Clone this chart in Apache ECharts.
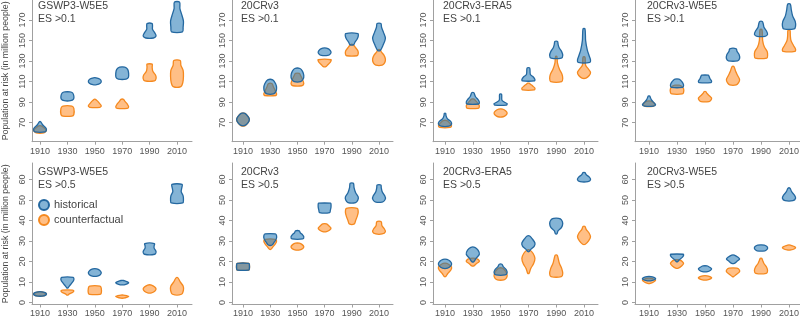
<!DOCTYPE html>
<html>
<head>
<meta charset="utf-8">
<script src="https://cdn.jsdelivr.net/npm/echarts@6/dist/echarts.min.js"></script>
<style>html,body{margin:0;padding:0;background:#fff}#c{width:800px;height:318px}</style>
</head>
<body>
<div id="c"></div>
<script>
// ---------------- DATA ----------------
const years = [1910, 1930, 1950, 1970, 1990, 2010];
const ticksEs01 = [70, 90, 110, 130, 150, 170];
const ticksEs05 = [0, 10, 20, 30, 40, 50, 60];
const datasetNames = ['GSWP3-W5E5', '20CRv3', '20CRv3-ERA5', '20CRv3-W5E5'];
const thresholds = ['ES >0.1', 'ES >0.5'];
const seriesNames = ['historical', 'counterfactual'];
const yAxisTitle = 'Population at risk (in million people)';

// each violin: list of [value, relative half-width] from bottom to top
const gswp3_01_hist = [
  [[61,0.8],[63,1],[65,0.9],[68,0.4],[71,0.1]],
  [[91.4,0.5],[93,0.95],[96,1],[99,0.8],[100,0.4]],
  [[107.1,0.3],[108.5,0.85],[110.5,1],[112.5,0.75],[113.7,0.2]],
  [[112.4,0.6],[114,0.95],[118,1],[122,0.85],[124.1,0.4]],
  [[152.5,0.6],[154.5,1],[157,0.85],[161,0.45],[164,0.45],[166.5,0.4]],
  [[158.4,0.85],[163,0.95],[169,1],[176,0.7],[181,0.45],[187.4,0.4]]
];
const gswp3_01_cf = [
  [[60,0.6],[61.5,0.9],[63,1],[65,0.6],[67,0.2]],
  [[76.4,0.7],[78,1],[84,1],[86.2,0.7]],
  [[85,0.8],[86.5,1],[89,0.7],[91.5,0.35],[92.8,0.1]],
  [[84,0.8],[85.5,1],[88,0.8],[91,0.4],[92.8,0.2]],
  [[110.7,0.75],[113,1],[116,0.95],[120,0.5],[124,0.4],[127,0.4]],
  [[105.1,0.6],[109,0.9],[115,1],[121,0.95],[126,0.6],[130.6,0.5]]
];
const cr_01_hist = [
  [[67.3,0.3],[70,0.8],[73,1],[76,0.8],[79.1,0.3]],
  [[98,0.5],[100.5,0.9],[104,1],[108,0.85],[111.7,0.4]],
  [[110,0.5],[112.5,0.9],[116,1],[120,0.8],[122.8,0.4]],
  [[135.5,0.5],[137,0.9],[139,1],[141.5,0.7],[142.7,0.3]],
  [[146,0.3],[148.5,0.5],[151,0.8],[154,1],[156.8,0.95]],
  [[140.4,0.2],[145,0.6],[152,1],[158,0.7],[163,0.4],[166.5,0.3]]
];
const cr_01_cf = [
  [[67,0.3],[70,0.8],[73,1],[76,0.8],[79,0.3]],
  [[96.5,0.9],[98,1],[101,0.8],[105,0.5],[108,0.3]],
  [[106,0.7],[108,1],[112,0.8],[116,0.5],[118,0.3]],
  [[124.7,0.2],[126.5,0.5],[129,0.9],[131.3,1]],
  [[135.2,0.8],[137,1],[140,0.95],[143,0.6],[146,0.2]],
  [[126.1,0.5],[128.5,0.9],[132,1],[136,0.75],[139,0.35],[141,0.2]]
];
const era5_01_hist = [
  [[66.6,0.6],[68.5,1],[71,0.9],[74,0.35],[77,0.15],[79.1,0.1]],
  [[88.2,0.9],[90,1],[92.5,0.8],[95.5,0.4],[99.3,0.15]],
  [[87.2,0.9],[88.5,1],[90,0.6],[92,0.2],[97.7,0.15]],
  [[110.7,0.9],[112,1],[114.5,0.75],[117,0.3],[123.2,0.2]],
  [[133,0.8],[135.5,1],[139,0.85],[143,0.45],[146,0.3],[149.2,0.2]],
  [[128.7,0.9],[131,1],[135,0.8],[141,0.5],[150,0.25],[161.4,0.15]]
];
const era5_01_cf = [
  [[65.4,0.8],[67,1],[69,0.8],[72,0.3]],
  [[84,0.8],[85.5,1],[88,0.9],[91,0.5],[93,0.2]],
  [[75.8,0.4],[77.5,0.85],[79.5,1],[81.5,0.8],[83.3,0.3]],
  [[101.9,0.9],[103.5,1],[105.5,0.7],[107.5,0.3],[108.5,0.1]],
  [[110,0.85],[113,1],[117,0.9],[122,0.5],[128,0.2],[134.5,0.1]],
  [[113.4,0.3],[116,0.8],[119,1],[122,0.7],[126,0.25],[133.9,0.15]]
];
const w5e5_01_hist = [
  [[86.2,0.7],[87.5,1],[89.5,0.75],[92.5,0.35],[96,0.1]],
  [[104.5,0.85],[106.5,1],[109,0.85],[111,0.6],[112.4,0.3]],
  [[109.1,0.9],[110.5,1],[113,0.75],[115.5,0.6],[116.3,0.5]],
  [[130.3,0.7],[132.5,1],[136,0.95],[139.5,0.6],[142,0.5]],
  [[154.1,0.6],[156,1],[159,0.85],[163,0.45],[166,0.35],[168.5,0.2]],
  [[161.4,0.8],[164,1],[168.5,0.95],[174,0.55],[180,0.35],[185.5,0.2]]
];
const w5e5_01_cf = [
  [[86,0.6],[87.5,0.9],[89,0.8],[91,0.3]],
  [[98,0.8],[99.5,1],[103,1],[105.5,0.7],[106.5,0.3]],
  [[90.5,0.6],[92,0.9],[94,1],[96.5,0.6],[98.5,0.3],[100.2,0.15]],
  [[106.8,0.5],[109,0.85],[112,1],[116,0.7],[120,0.4],[124.7,0.15]],
  [[133,0.9],[135.5,1],[139,0.95],[144,0.5],[150,0.25],[160.7,0.15]],
  [[139.4,0.9],[141.5,1],[145,0.7],[150,0.3],[155,0.2],[160,0.15]]
];
const gswp3_05_hist = [
  [[3.1,0.4],[3.6,0.9],[4.2,1],[4.8,0.8],[5.2,0.3]],
  [[7.1,0.1],[8,0.3],[9.5,0.7],[11,1],[12.2,0.9]],
  [[12.8,0.4],[13.5,0.85],[14.5,1],[15.7,0.75],[16.4,0.3]],
  [[8.6,0.3],[9.2,0.85],[9.7,1],[10.2,0.7],[10.7,0.2]],
  [[23.5,0.8],[24.8,1],[26.5,0.7],[27.5,0.7],[28.7,0.75]],
  [[48.5,0.9],[50,1],[52,0.95],[54,0.65],[56,0.75],[57.6,0.8]]
];
const gswp3_05_cf = [
  [[3.2,0.5],[3.8,0.9],[4.3,1],[4.8,0.6],[5.2,0.3]],
  [[3.6,0.1],[4.2,0.3],[5,0.85],[5.6,1],[6,0.8]],
  [[3.9,0.8],[4.5,1],[7,1],[8,0.8]],
  [[2.1,0.2],[2.6,0.8],[3,1],[3.3,0.7],[3.6,0.2]],
  [[4.7,0.3],[5.5,0.8],[6.5,1],[7.5,0.8],[8.5,0.3]],
  [[4,0.7],[6,1],[8,0.95],[10,0.5],[12,0.15]]
];
const cr_05_hist = [
  [[15.8,0.9],[16.5,1],[18.5,1],[19.1,0.9]],
  [[28,0.3],[29.5,0.65],[31,0.95],[32.5,1],[33.4,0.8]],
  [[31,0.85],[32,1],[33,0.8],[34,0.45],[34.9,0.3]],
  [[43.8,0.8],[45,0.9],[46.5,1],[48,1],[48.4,0.95]],
  [[48.7,0.6],[50,0.95],[51.5,1],[53.5,0.6],[56,0.35],[58.1,0.25]],
  [[49.1,0.6],[50.5,1],[52,0.9],[54,0.5],[56,0.35],[57.3,0.3]]
];
const cr_05_cf = [
  [[15.8,0.9],[16.5,1],[18.5,1],[19.1,0.9]],
  [[25.9,0.1],[27,0.4],[28.5,0.8],[30,1],[30.8,0.8]],
  [[25.6,0.4],[26.3,0.85],[27.2,1],[28.2,0.75],[28.9,0.3]],
  [[34.5,0.3],[35.3,0.8],[36.3,1],[37.3,0.7],[38.3,0.3]],
  [[38.3,0.4],[40,0.6],[42,0.85],[44,1],[45.9,0.85]],
  [[33.4,0.5],[34.5,1],[35.8,0.85],[37.5,0.45],[39.4,0.35]]
];
const era5_05_hist = [
  [[16.7,0.4],[17.8,0.9],[19,1],[20.2,0.75],[21,0.3]],
  [[19.9,0.15],[21.5,0.5],[23.5,1],[25.5,0.8],[26.9,0.3]],
  [[13.4,0.7],[14.5,1],[16,0.85],[17.5,0.4],[18.6,0.2]],
  [[24.8,0.1],[26,0.4],[27.5,0.9],[29,1],[31,0.6],[32.4,0.2]],
  [[33.4,0.1],[35,0.3],[36.5,0.8],[38.5,1],[40.3,0.8],[41,0.4]],
  [[58.9,0.6],[59.8,1],[61,0.85],[62.3,0.35],[63.3,0.15]]
];
const era5_05_cf = [
  [[12.6,0.1],[14,0.4],[15.8,0.9],[17.3,1],[18.5,0.6],[19.1,0.3]],
  [[17.8,0.15],[18.8,0.5],[20,1],[21,0.8],[21.5,0.4]],
  [[11,0.5],[12,0.9],[13.2,1],[15,0.8],[16.7,0.3]],
  [[14.2,0.1],[16.5,0.35],[19,0.8],[21.5,1],[24,0.7],[25.6,0.2]],
  [[12.6,0.8],[14,1],[16.5,0.85],[19,0.5],[21.5,0.3],[23.1,0.15]],
  [[28.4,0.2],[30,0.7],[32,1],[34,0.75],[35.5,0.35],[37,0.15]]
];
const w5e5_05_hist = [
  [[10.6,0.4],[11.2,0.9],[11.7,1],[12.2,0.75],[12.6,0.3]],
  [[19.9,0.1],[20.8,0.35],[22,0.8],[23,1],[23.5,0.95]],
  [[15,0.4],[15.7,0.85],[16.4,1],[17.2,0.7],[17.8,0.3]],
  [[19.1,0.2],[20.2,0.65],[21.2,1],[22.2,0.7],[23.1,0.2]],
  [[25.2,0.6],[26,0.95],[26.7,1],[27.4,0.85],[28,0.5]],
  [[49.6,0.6],[50.8,1],[52.2,0.85],[54,0.4],[55.7,0.15]]
];
const w5e5_05_cf = [
  [[9.3,0.2],[10,0.7],[10.8,1],[11.4,0.7],[11.8,0.3]],
  [[16.7,0.2],[17.8,0.7],[19,1],[20,0.8],[20.7,0.4]],
  [[11,0.4],[11.6,0.9],[12.1,1],[12.6,0.75],[13,0.3]],
  [[12.6,0.1],[13.5,0.45],[14.8,0.95],[15.7,1],[16.7,0.6]],
  [[14.2,0.8],[15.5,1],[17.2,0.85],[19,0.45],[20.5,0.25],[21.5,0.1]],
  [[25.6,0.3],[26.2,0.85],[26.8,1],[27.4,0.7],[28,0.2]]
];

const panels = [
  {row:0,col:0,hist:gswp3_01_hist,cf:gswp3_01_cf},
  {row:0,col:1,hist:cr_01_hist,cf:cr_01_cf},
  {row:0,col:2,hist:era5_01_hist,cf:era5_01_cf},
  {row:0,col:3,hist:w5e5_01_hist,cf:w5e5_01_cf},
  {row:1,col:0,hist:gswp3_05_hist,cf:gswp3_05_cf},
  {row:1,col:1,hist:cr_05_hist,cf:cr_05_cf},
  {row:1,col:2,hist:era5_05_hist,cf:era5_05_cf},
  {row:1,col:3,hist:w5e5_05_hist,cf:w5e5_05_cf}
];

// ---------------- LAYOUT ----------------
const FONT = 'Liberation Sans, Arial, Helvetica, sans-serif';
const cols = [
  {left:32, x1910:40, x2010:177, right:192},
  {left:232, x1910:243, x2010:379, right:393},
  {left:433, x1910:445, x2010:584, right:598},
  {left:635, x1910:649, x2010:789, right:800}
];
const rows = [
  {top:0, bottom:141.7, min:51.5, max:189.5, ticks:ticksEs01, titleTop:0},
  {top:163, bottom:304.5, min:-1, max:68, ticks:ticksEs05, titleTop:166}
];
const HALF_W = 4.7; // years
const styles = {
  historical: {fill:'rgba(31,119,180,0.55)', stroke:'#2468a0'},
  counterfactual: {fill:'rgba(255,127,14,0.5)', stroke:'#f5891f'}
};
const plain = v => String(v);

const grids = [], xAxes = [], yAxes = [], series = [], titles = [];
panels.forEach((p, i) => {
  const c = cols[p.col], r = rows[p.row];
  const s = (c.x2010 - c.x1910) / 100;
  grids.push({left:c.left, top:r.top, width:c.right - c.left, height:r.bottom - r.top,
              containLabel:false, outerBoundsMode:'none'});
  const axisCommon = {
    axisLine:{show:true, onZero:false, lineStyle:{color:'#a0a0a0', width:1}},
    splitLine:{show:false}
  };
  xAxes.push(Object.assign({
    gridIndex:i, type:'value',
    min:1910 - (c.x1910 - c.left) / s, max:1910 + (c.right - c.x1910) / s,
    axisTick:{show:true, length:3, customValues:years, lineStyle:{color:'#a0a0a0'}},
    axisLabel:{customValues:years, formatter:plain, fontSize:9, color:'#555', margin:5, fontFamily:FONT}
  }, axisCommon));
  const ya = Object.assign({
    gridIndex:i, type:'value', min:r.min, max:r.max,
    axisTick:{show:true, length:3, customValues:r.ticks, lineStyle:{color:'#a0a0a0'}},
    axisLabel:{customValues:r.ticks, formatter:plain, fontSize:9, color:'#555', margin:5, rotate:90, fontFamily:FONT}
  }, axisCommon);
  if (p.col === 0) {
    ya.name = yAxisTitle;
    ya.nameLocation = 'middle';
    ya.nameGap = 22;
    ya.nameTextStyle = {fontSize:8.8, color:'#444', fontFamily:FONT};
  }
  yAxes.push(ya);
  titles.push({
    text: datasetNames[p.col] + '\n' + thresholds[p.row],
    left: c.x1910 - 2, top: r.titleTop, padding:0,
    textStyle:{fontSize:10.5, fontWeight:'normal', color:'#444', lineHeight:12.5, fontFamily:FONT}
  });
  [['counterfactual', p.cf], ['historical', p.hist]].forEach(([name, violins]) => {
    const st = styles[name];
    series.push({
      type:'custom', name:name, xAxisIndex:i, yAxisIndex:i,
      itemStyle:{color:st.fill, borderColor:st.stroke, borderWidth:1.3},
      data: years.map((y, k) => {
        const vals = violins[k].map(d => d[0]);
        return [y, Math.min.apply(null, vals), Math.max.apply(null, vals)];
      }),
      encode:{x:0, y:[1, 2]},
      renderItem: function (params, api) {
        const knots = violins[params.dataIndex];
        const year = api.value(0);
        const left = [], right = [];
        knots.forEach(function (kn) {
          const pt = api.coord([year, kn[0]]);
          const hw = (api.coord([year + HALF_W, kn[0]])[0] - pt[0]) * kn[1];
          left.push([pt[0] - hw, pt[1]]);
          right.push([pt[0] + hw, pt[1]]);
        });
        const pts = left.concat(right.reverse());
        return {
          type:'polygon',
          shape:{points:pts, smooth:0.3},
          style:{fill:st.fill, stroke:st.stroke, lineWidth:1.3}
        };
      }
    });
  });
});

const chart = echarts.init(document.getElementById('c'), null, {renderer:'canvas'});
chart.setOption({
  animation:false,
  backgroundColor:'#fff',
  title:titles,
  legend:{
    data:seriesNames, orient:'vertical', left:38, top:199, itemGap:3, padding:0,
    icon:'circle', itemWidth:10, itemHeight:10,
    textStyle:{fontSize:11, color:'#444', fontFamily:FONT}
  },
  grid:grids, xAxis:xAxes, yAxis:yAxes, series:series
});
</script>
</body>
</html>
